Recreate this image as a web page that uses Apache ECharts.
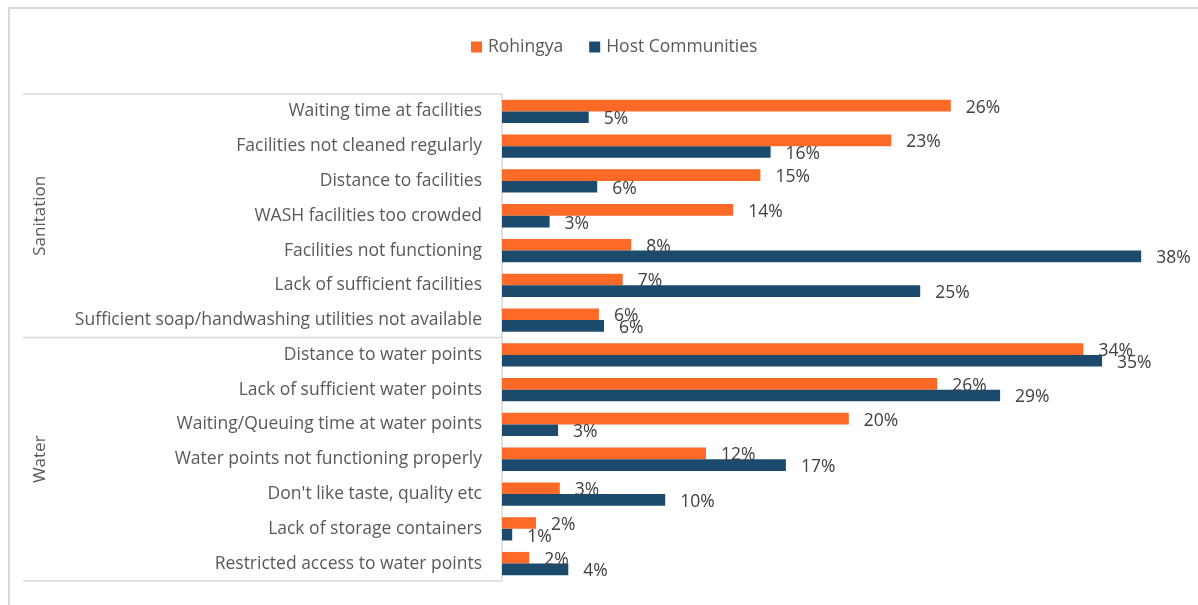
<!DOCTYPE html>
<html>
<head>
<meta charset="utf-8">
<script src="https://cdn.jsdelivr.net/npm/echarts@6/dist/echarts.min.js"></script>
<style>
  html, body { margin: 0; padding: 0; background: #fff; }
  #main { width: 1198px; height: 605px; }
</style>
</head>
<body>
<div id="main"></div>
<script>
  // categories, top to bottom
  const categories = [
    'Waiting time at facilities',
    'Facilities not cleaned regularly',
    'Distance to facilities',
    'WASH facilities too crowded',
    'Facilities not functioning',
    'Lack of sufficient facilities',
    'Sufficient soap/handwashing utilities not available',
    'Distance to water points',
    'Lack of sufficient water points',
    'Waiting/Queuing time at water points',
    'Water points not functioning properly',
    "Don't like taste, quality etc",
    'Lack of storage containers',
    'Restricted access to water points'
  ];
  // groups: name, first index, last index
  const groups = [
    { name: 'Sanitation', from: 0, to: 6 },
    { name: 'Water', from: 7, to: 13 }
  ];
  const rohingya = [26.4, 22.9, 15.2, 13.6, 7.6, 7.1, 5.7, 34.2, 25.6, 20.4, 12.0, 3.4, 2.0, 1.6];
  const host = [5.1, 15.8, 5.6, 2.8, 37.6, 24.6, 6.0, 35.3, 29.3, 3.3, 16.7, 9.6, 0.6, 3.9];

  const FONT = '"Open Sans", "Noto Sans", sans-serif';
  const GRAY = '#d9d9d9';

  let myChart = echarts.init(document.getElementById('main'));

  const labelOpt = {
    show: true,
    position: 'right',
    distance: 15,
    offset: [0, 2],
    color: '#404040',
    fontSize: 17.5,
    fontFamily: FONT,
    formatter: p => Math.round(p.value) + '%'
  };

  let option = {
    animation: false,
    textStyle: { fontFamily: FONT },
    legend: {
      top: 33,
      left: 466,
      icon: 'rect',
      itemWidth: 11,
      itemHeight: 11,
      itemGap: 26,
      textStyle: { color: '#595959', fontSize: 17.5, fontFamily: FONT, padding: [0, 0, 0, 1] },
      data: ['Rohingya', 'Host Communities']
    },
    grid: { left: 502, right: 16, top: 94, bottom: 24, containLabel: false },
    xAxis: {
      type: 'value',
      min: 0,
      max: 40,
      show: false
    },
    yAxis: {
      type: 'category',
      inverse: true,
      data: categories,
      axisLine: { show: true, lineStyle: { color: GRAY, width: 1.5 } },
      axisTick: { show: false },
      axisLabel: { color: '#595959', fontSize: 17.5, fontFamily: FONT, margin: 20, padding: [2, 0, 0, 0] }
    },
    series: [
      {
        name: 'Rohingya',
        type: 'bar',
        data: rohingya,
        itemStyle: { color: '#fd6926' },
        barGap: '0%',
        barCategoryGap: '33%',
        label: labelOpt
      },
      {
        name: 'Host Communities',
        type: 'bar',
        data: host,
        itemStyle: { color: '#1c4a6c' },
        label: labelOpt
      }
    ]
  };
  myChart.setOption(option);

  // group separators and labels, placed from the category axis
  const yAt = i => myChart.convertToPixel({ yAxisIndex: 0 }, i);
  const step = yAt(1) - yAt(0);
  const axisX = myChart.convertToPixel({ xAxisIndex: 0 }, 0);
  const graphics = [
    // outer chart frame
    { type: 'rect', shape: { x: 9, y: 8, width: 1400, height: 800 }, style: { fill: null, stroke: GRAY, lineWidth: 2 }, silent: true }
  ];
  const edges = [yAt(0) - step / 2];
  groups.forEach(g => edges.push(yAt(g.to) + step / 2));
  edges.forEach(y => {
    graphics.push({ type: 'line', shape: { x1: 23, y1: y, x2: axisX, y2: y }, style: { stroke: GRAY, lineWidth: 1.5 }, silent: true });
  });
  groups.forEach(g => {
    const mid = (yAt(g.from) + yAt(g.to)) / 2;
    graphics.push({
      type: 'text', x: 40, y: mid, rotation: Math.PI / 2,
      style: { text: g.name, fill: '#595959', fontSize: 17, fontFamily: FONT, align: 'center', verticalAlign: 'middle' },
      silent: true
    });
  });
  myChart.setOption({ graphic: graphics });
</script>
</body>
</html>
